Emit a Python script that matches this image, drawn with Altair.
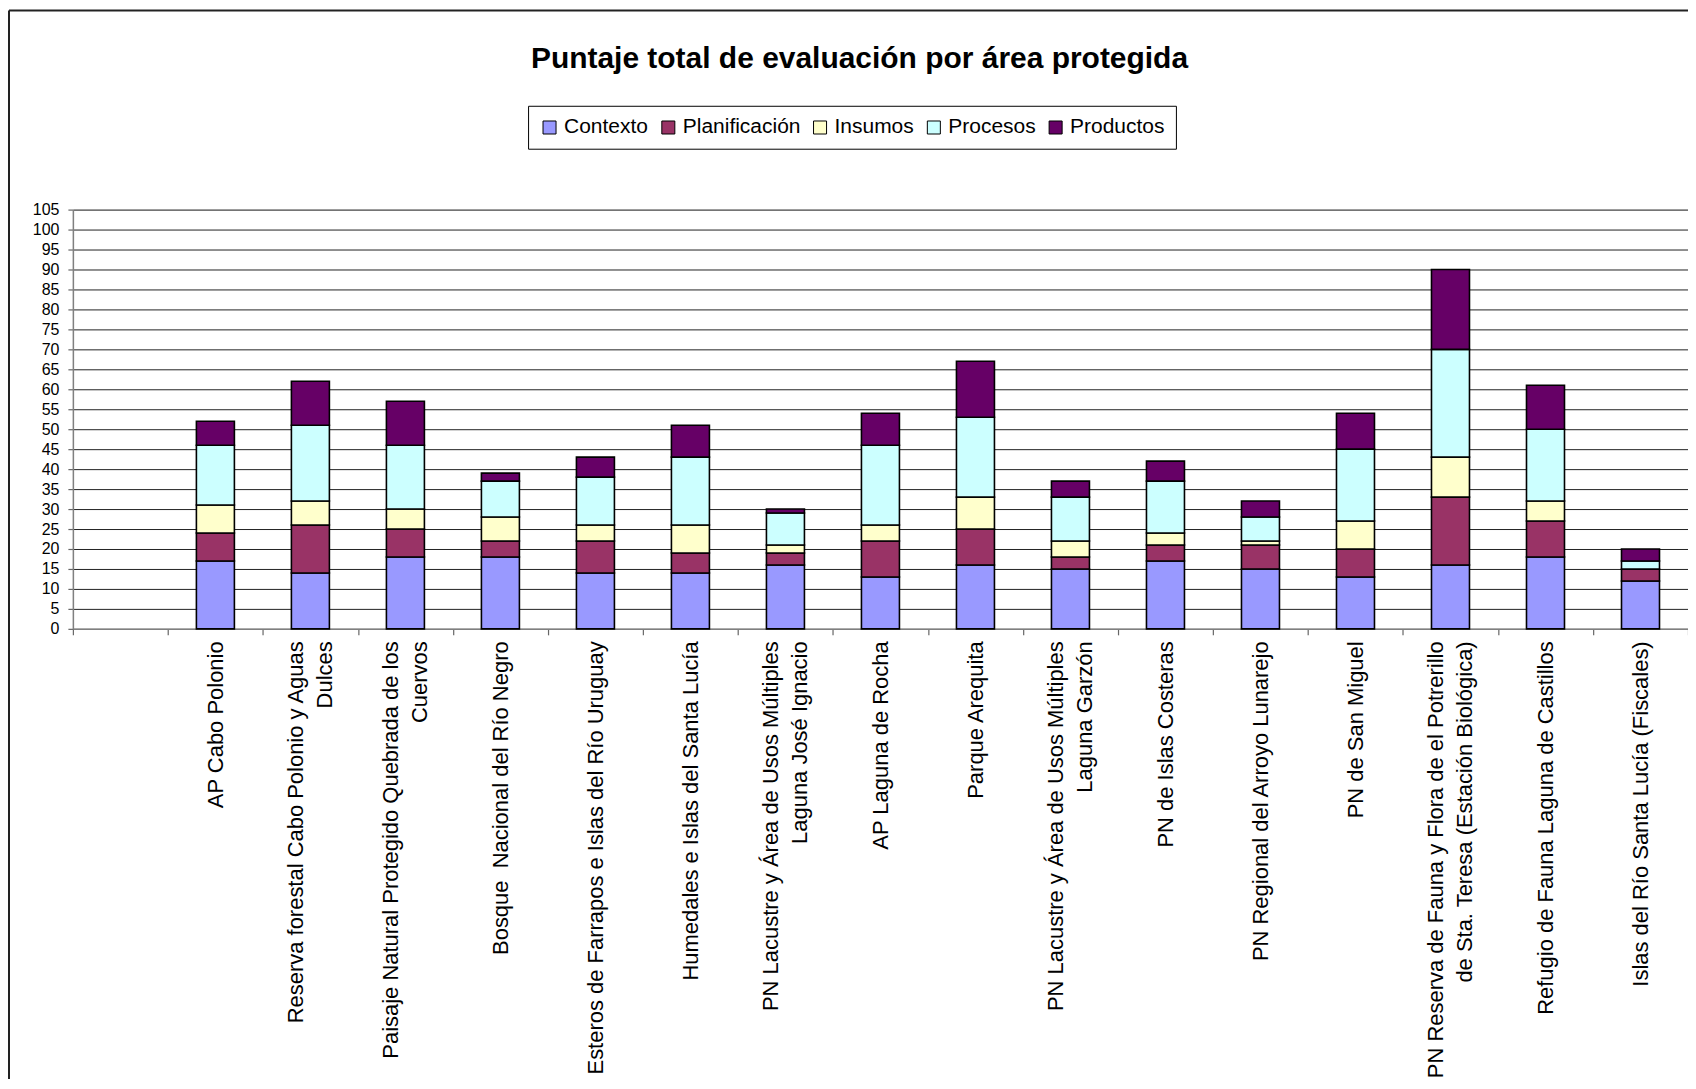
import altair as alt
import pandas as pd

TITLE = "Puntaje total de evaluación por área protegida"

areas = [
    "AP Cabo Polonio",
    "Reserva forestal Cabo Polonio y Aguas|Dulces",
    "Paisaje Natural Protegido Quebrada de los|Cuervos",
    "Bosque\u00a0 Nacional del Río Negro",
    "Esteros de Farrapos e Islas del Río Uruguay",
    "Humedales e Islas del Santa Lucía",
    "PN Lacustre y Área de Usos Múltiples|Laguna José Ignacio",
    "AP Laguna de Rocha",
    "Parque Arequita",
    "PN Lacustre y Área de Usos Múltiples|Laguna Garzón",
    "PN de Islas Costeras",
    "PN Regional del Arroyo Lunarejo",
    "PN de San Miguel",
    "PN Reserva de Fauna y Flora de el Potrerillo|de Sta. Teresa (Estación Biológica)",
    "Refugio de Fauna Laguna de Castillos",
    "Islas del Río Santa Lucía (Fiscales)",
]

componentes = ["Contexto", "Planificación", "Insumos", "Procesos", "Productos"]
colores = ["#9999FF", "#993366", "#FFFFCC", "#CCFFFF", "#660066"]

contexto = [17, 14, 18, 18, 14, 14, 16, 13, 16, 15, 17, 15, 13, 16, 18, 12]
planificacion = [7, 12, 7, 4, 8, 5, 3, 9, 9, 3, 4, 6, 7, 17, 9, 3]
insumos = [7, 6, 5, 6, 4, 7, 2, 4, 8, 4, 3, 1, 7, 10, 5, 0]
procesos = [15, 19, 16, 9, 12, 17, 8, 20, 20, 11, 13, 6, 18, 27, 18, 2]
productos = [6, 11, 11, 2, 5, 8, 1, 8, 14, 4, 5, 4, 9, 20, 11, 3]

y_ticks = list(range(0, 106, 5))

series = [contexto, planificacion, insumos, procesos, productos]
rows = []
for ci, (comp, vals) in enumerate(zip(componentes, series)):
    for a, v in zip(areas, vals):
        rows.append({"area": a, "componente": comp, "valor": v, "idx": ci})
df = pd.DataFrame(rows)

FONT = "Liberation Sans"
W, H = 1618, 420
LINE_H = 29

bars = alt.Chart(df).mark_bar(
    stroke="black", strokeWidth=1.6, width=alt.RelativeBandSize(0.4)
).encode(
    x=alt.X(
        "area:N",
        sort=None,
        scale=alt.Scale(domain=[" "] + areas, paddingInner=0, paddingOuter=0),
        axis=alt.Axis(
            title=None,
            labelAngle=-90,
            labelExpr="isValid(datum.value) && datum.value != ' ' ? split(datum.value, '|') : ''",
            labelFont=FONT,
            labelFontSize=22,
            labelColor="black",
            labelLimit=800,
            labelPadding=6,
            labelLineHeight=LINE_H,
            labelOffset={
                "condition": {"test": "isValid(datum.value) && indexof(datum.value, '|') >= 0",
                              "value": -LINE_H / 2},
                "value": 0,
            },
            tickBand="extent",
            tickSize=6,
            tickWidth=1.2,
            tickColor="#666666",
            domainColor="#808080",
            domainWidth=1.5,
            grid=False,
        ),
    ),
    y=alt.Y(
        "valor:Q",
        stack="zero",
        scale=alt.Scale(domain=[0, 105], nice=False),
        axis=alt.Axis(
            title=None,
            values=y_ticks,
            grid=True,
            gridColor="#222222",
            gridWidth=1,
            labelFont=FONT,
            labelFontSize=16,
            labelColor="black",
            labelPadding=9,
            tickSize=5,
            tickWidth=1.2,
            tickColor="#666666",
            domainColor="#808080",
            domainWidth=1.5,
        ),
    ),
    color=alt.Color(
        "componente:N",
        scale=alt.Scale(domain=componentes, range=colores),
        legend=alt.Legend(
            title=None,
            orient="none",
            legendX=456,
            legendY=-104,
            direction="horizontal",
            symbolType="square",
            symbolSize=170,
            symbolStrokeColor="black",
            symbolStrokeWidth=1,
            labelFont=FONT,
            labelFontSize=21,
            labelColor="black",
            labelOffset=4,
            columnPadding=9,
            padding=11,
            strokeColor="black",
            fillColor="white",
        ),
    ),
    order=alt.Order("idx:Q", sort="ascending"),
)

title = alt.Chart(pd.DataFrame({"t": [TITLE]})).mark_text(
    font=FONT, fontSize=30, fontWeight="bold", color="black",
    align="center", baseline="alphabetic",
).encode(text="t:N", x=alt.value(788), y=alt.value(-142))

frame_left = alt.Chart(pd.DataFrame({"a": [0]})).mark_rule(
    color="#222222", strokeWidth=2
).encode(x=alt.value(-64), y=alt.value(-199.5), y2=alt.value(880))

frame_top = alt.Chart(pd.DataFrame({"a": [0]})).mark_rule(
    color="#222222", strokeWidth=2
).encode(x=alt.value(-64), x2=alt.value(1700), y=alt.value(-199.5))

chart = alt.layer(bars, title, frame_left, frame_top).properties(
    width=W,
    height=H,
    autosize=alt.AutoSizeParams(type="none"),
    padding={"left": 65, "top": 201, "right": 0, "bottom": 450},
).configure_view(stroke="transparent").configure(background="white")

chart.save("out.html", embed_options={"renderer": "svg", "actions": False})
